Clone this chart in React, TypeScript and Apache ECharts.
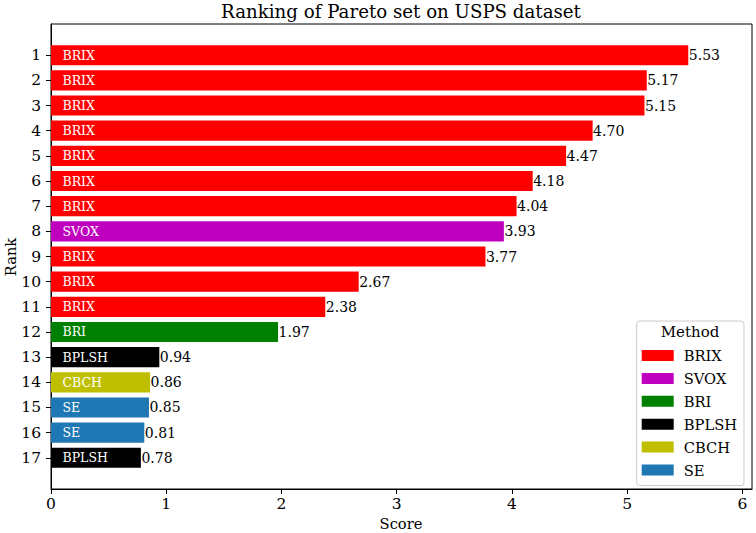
import React, { useEffect, useRef } from "react";
import * as echarts from "echarts";

const ranks = [1, 2, 3, 4, 5, 6, 7, 8, 9, 10, 11, 12, 13, 14, 15, 16, 17];
const scores = [5.53, 5.17, 5.15, 4.7, 4.47, 4.18, 4.04, 3.93, 3.77, 2.67, 2.38, 1.97, 0.94, 0.86, 0.85, 0.81, 0.78];
const methods = [
  "BRIX", "BRIX", "BRIX", "BRIX", "BRIX", "BRIX", "BRIX", "SVOX", "BRIX", "BRIX", "BRIX",
  "BRI", "BPLSH", "CBCH", "SE", "SE", "BPLSH",
];
const methodOrder = ["BRIX", "SVOX", "BRI", "BPLSH", "CBCH", "SE"];
const methodColors = ["#ff0000", "#bf00bf", "#008000", "#000000", "#bfbf00", "#1f77b4"];
const xTicks = [0, 1, 2, 3, 4, 5, 6];

const FONT = "DejaVu Serif";

export default function App() {
  const ref = useRef<HTMLDivElement>(null);
  useEffect(() => {
    if (!ref.current) return;
    document.body.style.margin = "0";
    const chart = echarts.init(ref.current, null, { renderer: "svg" });
    const xMax = Math.max(...scores) * 1.1;

    const series = methodOrder.map((m, mi) => {
      const data = ranks
        .map((r, i) => ({ r, v: scores[i], m: methods[i] }))
        .filter((d) => d.m === m)
        .map((d) => [d.v, d.r]);
      return {
        type: "custom",
        name: m,
        itemStyle: { color: methodColors[mi] },
        encode: { x: 0, y: 1 },
        data,
        renderItem: (params: any, api: any) => {
          const v = api.value(0);
          const r = api.value(1);
          const s = api.coord([0, r]);
          const e = api.coord([v, r]);
          const inner = api.coord([0.1, r]);
          const h = api.size([0, 0.8])[1];
          return {
            type: "group",
            children: [
              {
                type: "rect",
                shape: { x: s[0], y: s[1] - h / 2, width: e[0] - s[0], height: h },
                style: { fill: methodColors[mi] },
              },
              {
                type: "text",
                x: inner[0],
                y: s[1],
                style: {
                  text: m,
                  fill: "#ffffff",
                  font: `12.5px '${FONT}'`,
                  align: "left",
                  verticalAlign: "middle",
                },
              },
              {
                type: "text",
                x: e[0] + 0.5,
                y: s[1],
                style: {
                  text: v.toFixed(2),
                  fill: "#000000",
                  font: `14px '${FONT}'`,
                  align: "left",
                  verticalAlign: "middle",
                },
              },
            ],
          };
        },
      };
    });

    chart.setOption({
      animation: false,
      grid: {
        left: 51,
        right: 4,
        top: 24,
        height: 465,
        show: true,
        borderColor: "#000",
        borderWidth: 1,
        containLabel: false,
      },
      xAxis: {
        type: "value",
        min: 0,
        max: xMax,
        interval: 1,
        axisLine: { show: true, onZero: false, lineStyle: { color: "#000", width: 1 } },
        axisTick: { show: true, inside: false, length: 5, lineStyle: { color: "#000" }, customValues: xTicks },
        axisLabel: { color: "#000", fontFamily: FONT, fontSize: 15.5, margin: 7, customValues: xTicks },
        splitLine: { show: false },
      },
      yAxis: {
        type: "value",
        inverse: true,
        min: -0.24,
        max: 18.24,
        axisLine: { show: true, onZero: false, lineStyle: { color: "#000", width: 1 } },
        axisTick: { show: true, length: 5, lineStyle: { color: "#000" }, customValues: ranks },
        axisLabel: { color: "#000", fontFamily: FONT, fontSize: 15.5, margin: 10, customValues: ranks },
        splitLine: { show: false },
      },
      legend: {
        data: methodOrder,
        orient: "vertical",
        right: 12,
        top: 321,
        icon: "rect",
        itemWidth: 32,
        itemHeight: 11,
        itemGap: 7.9,
        padding: [27, 7, 8, 5],
        backgroundColor: "rgba(255,255,255,0.8)",
        borderColor: "#cccccc",
        borderWidth: 1,
        borderRadius: 3,
        selectedMode: false,
        textStyle: { fontFamily: FONT, fontSize: 14.7, color: "#000", lineHeight: 14.5, padding: [0, 0, 0, 5] },
      },
      graphic: [
        {
          type: "text",
          x: 401,
          y: 11,
          style: {
            text: "Ranking of Pareto set on USPS dataset",
            font: `18.2px '${FONT}'`,
            fill: "#000",
            align: "center",
            verticalAlign: "middle",
          },
        },
        {
          type: "text",
          x: 401,
          y: 523.5,
          style: { text: "Score", font: `14.7px '${FONT}'`, fill: "#000", align: "center", verticalAlign: "middle" },
        },
        {
          type: "text",
          x: 10,
          y: 257,
          rotation: Math.PI / 2,
          style: { text: "Rank", font: `14.7px '${FONT}'`, fill: "#000", align: "center", verticalAlign: "middle" },
        },
        {
          type: "text",
          x: 690,
          y: 332,
          z: 100,
          style: { text: "Method", font: `15px '${FONT}'`, fill: "#000", align: "center", verticalAlign: "middle" },
        },
      ],
      series,
    });
    return () => chart.dispose();
  }, []);
  return <div ref={ref} style={{ width: 756, height: 533 }} />;
}
